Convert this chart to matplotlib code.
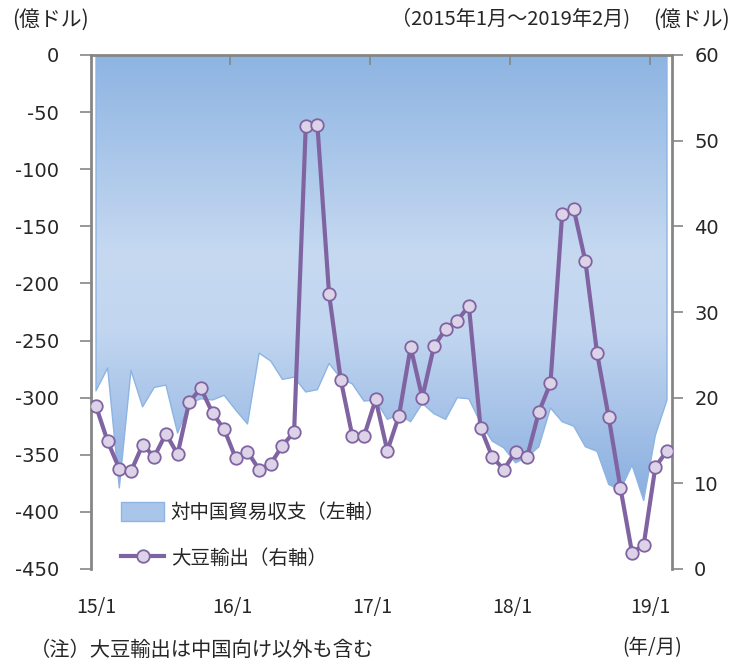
import matplotlib.pyplot as plt
import numpy as np
from matplotlib.colors import LinearSegmentedColormap
from matplotlib.patches import Patch
from matplotlib.lines import Line2D

plt.rcParams['font.family'] = ['Noto Sans CJK JP', 'DejaVu Sans']

# monthly, 2015/1 - 2019/2
balance = [-294, -274, -379, -276, -308, -291, -289, -331, -305, -301,
           -302, -298, -311, -323, -261, -268, -284, -282, -295, -293,
           -270, -283, -288, -303, -302, -319, -315, -321, -305, -314,
           -319, -300, -301, -322, -338, -344, -357, -352, -343, -309,
           -321, -325, -343, -347, -376, -381, -359, -390, -333, -302]
soy = [19.0, 14.9, 11.7, 11.4, 14.5, 13.1, 15.8, 13.4, 19.5, 21.1,
       18.2, 16.3, 12.9, 13.7, 11.6, 12.3, 14.4, 16.0, 51.7, 51.8,
       32.1, 22.1, 15.5, 15.5, 19.8, 13.8, 17.9, 25.9, 20.0, 26.0,
       28.0, 29.0, 30.7, 16.5, 13.1, 11.6, 13.7, 13.1, 18.3, 21.7,
       41.4, 42.0, 35.9, 25.2, 17.7, 9.5, 1.9, 2.8, 11.9, 13.8]
year_labels = ['15/1', '16/1', '17/1', '18/1', '19/1']
left_ticks = [0, -50, -100, -150, -200, -250, -300, -350, -400, -450]
right_ticks = [0, 10, 20, 30, 40, 50, 60]

W, H = 738, 659
fig = plt.figure(figsize=(W / 100, H / 100), dpi=100)
ax = fig.add_axes([91 / W, 1 - 569 / H, (672 - 91) / W, (569 - 55) / H])
ax2 = ax.twinx()

x = np.arange(len(balance))
xlim = (-0.43, len(balance) - 1 + 0.43)
gray = '#868686'
txt = '#262626'

# gradient area (left axis)
area = ax.fill_between(x, balance, 0, facecolor='none', edgecolor='#8db4e2',
                       lw=1, zorder=2)
cmap = LinearSegmentedColormap.from_list(
    'g', [(0, '#8db4e2'), (0.45, '#c6d9f1'), (0.62, '#c2d6f0'), (1, '#8aafe0')])
ymin = min(balance)
grad = np.linspace(0, 1, 256).reshape(-1, 1)
im = ax.imshow(grad, extent=[xlim[0], xlim[1], ymin, 0], aspect='auto',
               cmap=cmap, origin='upper', zorder=1, interpolation='bilinear')
im.set_clip_path(area.get_paths()[0], transform=ax.transData)

ax.set_xlim(*xlim)
ax.set_ylim(-450, 0)
ax.set_yticks(left_ticks)
ax.set_yticklabels([str(v) for v in left_ticks], family='DejaVu Sans',
                   fontsize=14, color=txt)
ax.tick_params(axis='y', direction='out', length=8, width=1.2, color=gray, pad=15)

lab_pos = [0, 11.7, 23.7, 35.7, 47.6]
ax.set_xticks(lab_pos)
ax.set_xticklabels(year_labels, fontsize=14, color=txt)
ax.set_xticks([11.5, 23.5, 35.5, 47.5], minor=True)
ax.tick_params(axis='x', which='major', length=0, pad=20, top=False)
ax.tick_params(axis='x', which='minor', bottom=False, top=True, direction='in',
               length=7, width=1.2, color=gray)

for side in ['left', 'top']:
    ax.spines[side].set_color(gray)
    ax.spines[side].set_linewidth(2)
ax.spines['bottom'].set_visible(False)
ax.spines['right'].set_visible(False)

# soybean exports (right axis)
ax2.plot(x, soy, color='#8064a2', lw=3, marker='o', markersize=9,
         markerfacecolor='#ddd3e8', markeredgecolor='#8064a2',
         markeredgewidth=1.3, zorder=3)
ax2.set_ylim(0, 60)
ax2.set_yticks(right_ticks)
ax2.set_yticklabels([str(v) for v in right_ticks], family='DejaVu Sans',
                    fontsize=14, color=txt)
ax2.tick_params(axis='y', direction='out', length=8, width=1.2, color=gray, pad=8)
for side in ['left', 'top', 'bottom']:
    ax2.spines[side].set_visible(False)
ax2.spines['right'].set_color(gray)
ax2.spines['right'].set_linewidth(2)

handles = [Patch(facecolor='#a9c6ea', edgecolor='#8db4e2'),
           Line2D([], [], color='#8064a2', lw=3, marker='o', markersize=9,
                  markerfacecolor='#ddd3e8', markeredgecolor='#8064a2',
                  markeredgewidth=1.3)]
ax2.legend(handles, ['対中国貿易収支（左軸）', '大豆輸出（右軸）'],
           loc='center left', bbox_to_anchor=(0.052, 0.065), frameon=False,
           fontsize=14, handlelength=2.2, handleheight=1.1, handletextpad=0.35,
           labelspacing=1.3, borderpad=0, borderaxespad=0, labelcolor=txt)

fig.text(12 / W, 1 - 20 / H, '(億ドル)', fontsize=15, color=txt,
         ha='left', va='center')
fig.text(630 / W, 1 - 20 / H, '（2015年1月～2019年2月)', fontsize=14.5,
         color=txt, ha='right', va='center')
fig.text(730 / W, 1 - 20 / H, '(億ドル)', fontsize=15, color=txt,
         ha='right', va='center')
fig.text(30 / W, 1 - 650 / H, '（注）大豆輸出は中国向け以外も含む', fontsize=14.6,
         color=txt, ha='left', va='center')
fig.text(652 / W, 1 - 648 / H, '(年/月)', fontsize=14, color=txt,
         ha='center', va='center')

fig.savefig('out.png', dpi=100)
